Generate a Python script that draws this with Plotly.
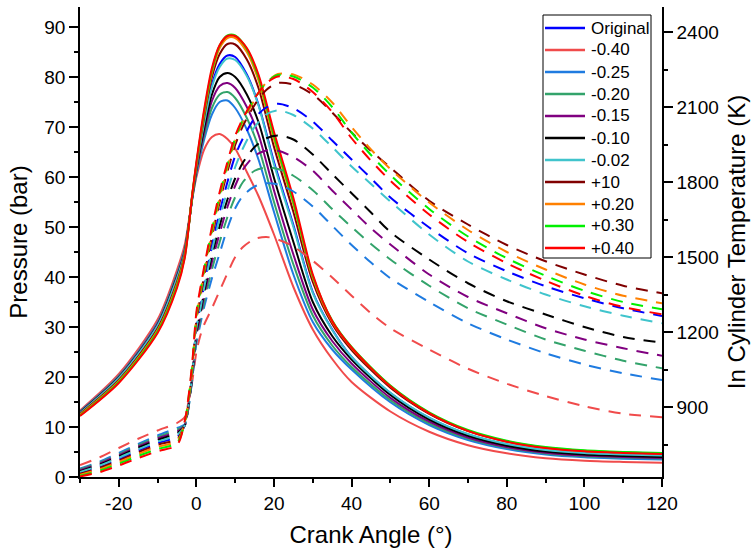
import plotly.graph_objects as go

# Crank angle grids (degrees)
crank_p = [-30, -20, -10, -5, -3, -1, 0, 2, 4, 6, 8, 10, 13, 16, 20, 25, 30, 35, 40,
           50, 60, 70, 80, 90, 100, 110, 120]
crank_t = [-30, -25, -20, -15, -10, -5, -3, -2, -1, 0, 1, 2, 4, 6, 8, 10, 12, 15, 18,
           21, 25, 30, 35, 40, 45, 50, 60, 70, 80, 90, 100, 110, 120]

x_ticks = [-20, 0, 20, 40, 60, 80, 100, 120]
x_tick_text = ["-20", "0", "20", "40", "60", "80", "100", "120"]

labels = ["Original", "-0.40", "-0.25", "-0.20", "-0.15", "-0.10", "-0.02",
          "+10", "+0.20", "+0.30", "+0.40"]
colors = ["#0000FF", "#F04B4B", "#1F7BE0", "#33A36B", "#800080", "#000000",
          "#40C4CC", "#800000", "#FF8000", "#00F000", "#FF0000"]

# Cylinder pressure (bar)
p_orig = [12.7, 19.6, 30.0, 39.4, 44.8, 56.5, 62.0, 71.0, 78.5, 82.6, 84.3, 84.0, 80.5, 74.5,
          63.0, 50.4, 37.0, 29.5, 24.0, 16.8, 11.8, 8.5, 6.5, 5.3, 4.7, 4.4, 4.2]
p_m040 = [13.3, 20.6, 31.5, 41.4, 46.5, 56.0, 60.0, 65.5, 68.0, 68.6, 67.6, 65.7, 61.0, 56.2,
          48.5, 38.0, 29.5, 23.6, 19.0, 13.1, 9.05, 6.36, 4.73, 3.75, 3.26, 3.02, 2.85]
p_m025 = [13.1, 20.2, 30.9, 40.6, 45.6, 56.0, 60.5, 67.5, 72.5, 75.0, 75.3, 73.8, 69.5, 63.5,
          53.0, 40.5, 31.0, 25.5, 21.5, 14.95, 10.4, 7.4, 5.58, 4.49, 3.94, 3.67, 3.5]
p_m020 = [13.0, 20.1, 30.7, 40.4, 45.5, 56.2, 61.0, 68.3, 73.8, 76.5, 77.0, 75.8, 71.8, 66.0,
          55.0, 42.5, 32.3, 26.3, 22.0, 15.35, 10.73, 7.68, 5.83, 4.72, 4.17, 3.89, 3.71]
p_m015 = [12.95, 20.0, 30.6, 40.2, 45.3, 56.3, 61.3, 69.0, 75.2, 78.2, 78.8, 77.8, 74.0, 68.5,
          57.3, 44.5, 33.5, 27.2, 22.7, 15.83, 11.06, 7.91, 6.0, 4.85, 4.28, 3.99, 3.8]
p_m010 = [12.9, 19.9, 30.4, 40.0, 45.1, 56.4, 61.6, 69.8, 76.5, 80.0, 80.8, 80.0, 76.5, 71.0,
          59.8, 47.0, 35.0, 28.2, 23.5, 16.41, 11.49, 8.24, 6.27, 5.09, 4.5, 4.2, 4.0]
p_m002 = [12.8, 19.8, 30.3, 39.8, 45.0, 56.5, 61.9, 70.8, 78.0, 82.0, 83.7, 83.4, 80.2, 74.3,
          62.5, 50.0, 36.8, 29.4, 24.0, 16.84, 11.87, 8.59, 6.6, 5.41, 4.81, 4.51, 4.31]
p_p10 = [12.6, 19.4, 29.7, 39.0, 44.6, 56.7, 62.3, 72.0, 80.0, 84.6, 86.6, 86.5, 83.5, 77.8,
         66.0, 53.0, 39.0, 30.6, 25.4, 17.87, 12.64, 9.19, 7.1, 5.85, 5.22, 4.91, 4.7]
p_p020 = [12.45, 19.2, 29.4, 38.6, 44.3, 56.8, 62.5, 72.6, 80.8, 85.8, 87.8, 87.8, 85.0, 79.3,
          67.5, 54.5, 39.8, 31.0, 25.8, 18.13, 12.8, 9.28, 7.15, 5.87, 5.23, 4.91, 4.7]
p_p030 = [12.3, 19.0, 29.1, 38.2, 44.0, 56.9, 62.7, 73.0, 81.3, 86.3, 88.3, 88.3, 85.6, 80.0,
          68.2, 55.0, 40.2, 31.3, 26.0, 18.29, 12.94, 9.41, 7.27, 5.98, 5.34, 5.02, 4.81]
p_p040 = [12.2, 18.8, 28.8, 37.8, 43.8, 57.0, 63.0, 73.5, 81.8, 86.4, 88.2, 88.2, 85.8, 80.5,
          69.0, 55.8, 40.5, 31.2, 25.9, 18.15, 12.77, 9.22, 7.07, 5.78, 5.13, 4.81, 4.59]

# In-cylinder temperature (K)
t_orig = [636, 661, 692, 726, 756, 781, 826, 912, 1045, 1225, 1300, 1390, 1545, 1680, 1800,
          1905, 1975, 2055, 2098, 2113, 2095, 2042, 1966, 1890, 1815, 1738, 1618, 1515, 1443,
          1383, 1335, 1295, 1264]
t_m040 = [668, 698, 736, 773, 806, 836, 860, 925, 1010, 1120, 1185, 1230, 1295, 1365, 1435,
          1500, 1540, 1572, 1580, 1570, 1542, 1485, 1418, 1345, 1275, 1215, 1130, 1053, 993,
          944, 903, 873, 859]
t_m025 = [654, 681, 716, 752, 786, 816, 830, 900, 1020, 1155, 1230, 1300, 1415, 1515, 1615,
          1695, 1745, 1782, 1795, 1790, 1762, 1702, 1625, 1548, 1478, 1415, 1320, 1235, 1170,
          1115, 1070, 1035, 1008]
t_m020 = [651, 677, 711, 747, 780, 809, 828, 902, 1025, 1170, 1245, 1320, 1450, 1560, 1660,
          1740, 1800, 1845, 1858, 1852, 1825, 1767, 1692, 1620, 1552, 1490, 1385, 1295, 1230,
          1170, 1125, 1085, 1055]
t_m015 = [647, 673, 707, 742, 774, 802, 826, 905, 1030, 1185, 1260, 1345, 1480, 1595, 1700,
          1785, 1850, 1905, 1926, 1925, 1900, 1845, 1766, 1690, 1615, 1550, 1430, 1340, 1275,
          1215, 1170, 1135, 1105]
t_m010 = [643, 669, 702, 737, 768, 795, 826, 908, 1035, 1200, 1275, 1360, 1505, 1625, 1730,
          1815, 1878, 1940, 1975, 1986, 1970, 1910, 1832, 1755, 1678, 1600, 1490, 1395, 1323,
          1270, 1220, 1180, 1158]
t_m002 = [640, 665, 697, 731, 762, 788, 826, 910, 1040, 1215, 1290, 1378, 1525, 1655, 1765,
          1860, 1935, 2020, 2070, 2086, 2068, 2014, 1940, 1862, 1792, 1722, 1590, 1482, 1410,
          1350, 1303, 1265, 1235]
t_p10 = [633, 656, 686, 719, 749, 772, 832, 922, 1058, 1245, 1335, 1425, 1580, 1720, 1842,
         1948, 2025, 2108, 2168, 2196, 2190, 2150, 2078, 1998, 1925, 1858, 1725, 1630, 1548,
         1483, 1430, 1385, 1355]
t_p020 = [629, 651, 680, 712, 741, 764, 836, 930, 1070, 1260, 1350, 1440, 1595, 1735, 1858,
          1965, 2042, 2128, 2198, 2232, 2230, 2190, 2118, 2020, 1930, 1852, 1718, 1608, 1520,
          1450, 1390, 1345, 1315]
t_p030 = [625, 645, 673, 704, 732, 756, 840, 938, 1080, 1270, 1362, 1450, 1608, 1748, 1870,
          1975, 2050, 2133, 2198, 2228, 2222, 2178, 2100, 1998, 1908, 1828, 1692, 1582, 1495,
          1425, 1365, 1320, 1291]
t_p040 = [622, 639, 666, 696, 723, 748, 845, 945, 1090, 1280, 1375, 1460, 1620, 1760, 1880,
          1985, 2055, 2135, 2195, 2222, 2212, 2160, 2080, 1975, 1885, 1805, 1670, 1560, 1475,
          1405, 1345, 1300, 1271]

pressures = [p_orig, p_m040, p_m025, p_m020, p_m015, p_m010, p_m002, p_p10, p_p020, p_p030, p_p040]
temperatures = [t_orig, t_m040, t_m025, t_m020, t_m015, t_m010, t_m002, t_p10, t_p020, t_p030, t_p040]

FONT = "Arial, Liberation Sans, sans-serif"
W, H = 756, 556
M_L, M_R, M_T, M_B = 80, 94, 7, 79
PLOT_W, PLOT_H = W - M_L - M_R, H - M_T - M_B


def paper_x(px):
    return (px - M_L) / PLOT_W


def paper_y(py):
    return (H - M_B - py) / PLOT_H


fig = go.Figure()

# Pressure: solid lines on the left axis
for name, col, p in zip(labels, colors, pressures):
    fig.add_trace(go.Scatter(
        x=crank_p, y=p, mode="lines", name=name, showlegend=False,
        line=dict(color=col, width=2, shape="spline", smoothing=0.8),
        xaxis="x", yaxis="y"))

# Temperature: dashed lines on the right axis
for name, col, t in zip(labels, colors, temperatures):
    fig.add_trace(go.Scatter(
        x=crank_t, y=t, mode="lines", name=name, showlegend=False,
        line=dict(color=col, width=2, dash="12px,9px", shape="spline", smoothing=0.8),
        xaxis="x", yaxis="y2"))

# Boxed key in the upper-right corner of the plot area
shapes = [dict(type="rect", xref="paper", yref="paper",
               x0=paper_x(543), x1=paper_x(651), y0=paper_y(258), y1=paper_y(15),
               line=dict(color="black", width=1), fillcolor="white", layer="above")]
annotations = []
for i, (name, col) in enumerate(zip(labels, colors)):
    row_y = paper_y(28 + 22 * i)
    shapes.append(dict(type="line", xref="paper", yref="paper",
                       x0=paper_x(545), x1=paper_x(585), y0=row_y, y1=row_y,
                       line=dict(color=col, width=2.5), layer="above"))
    annotations.append(dict(text=name, xref="paper", yref="paper", x=paper_x(589), y=row_y,
                            xanchor="left", yanchor="middle", showarrow=False,
                            font=dict(family=FONT, size=17, color="black")))

axis_common = dict(showgrid=False, zeroline=False, showline=True, linecolor="black",
                   linewidth=1.5, tickcolor="black", tickwidth=1.5,
                   tickfont=dict(family=FONT, size=19, color="black"))

fig.update_layout(
    width=W, height=H,
    margin=dict(l=M_L, r=M_R, t=M_T, b=M_B, pad=0),
    paper_bgcolor="white", plot_bgcolor="white",
    font=dict(family=FONT, color="black"),
    showlegend=False,
    shapes=shapes, annotations=annotations,
    xaxis=dict(range=[-30, 120], tickmode="array", tickvals=x_ticks, ticktext=x_tick_text,
               ticks="outside", ticklen=8,
               minor=dict(dtick=10, ticks="outside", ticklen=4, tickcolor="black", tickwidth=1.5),
               title=dict(text="Crank Angle (°)", font=dict(family=FONT, size=24), standoff=14),
               **axis_common),
    xaxis2=dict(range=[-30, 120], overlaying="x", side="top", anchor="y", tick0=0, dtick=20,
                ticks="inside", ticklen=8, showticklabels=False,
                minor=dict(dtick=10, ticks="inside", ticklen=5, tickcolor="black", tickwidth=1.5),
                **axis_common),
    yaxis=dict(range=[0, 94], tick0=0, dtick=10, ticks="outside", ticklen=9,
               minor=dict(dtick=5, ticks="outside", ticklen=4, tickcolor="black", tickwidth=1.5),
               title=dict(text="Pressure (bar)", font=dict(family=FONT, size=24), standoff=10),
               **axis_common),
    yaxis2=dict(range=[620, 2500], overlaying="y", side="right", anchor="x", tick0=0, dtick=300,
                ticks="outside", ticklen=9,
                minor=dict(dtick=150, ticks="outside", ticklen=4, tickcolor="black", tickwidth=1.5),
                title=dict(text="In Cylinder Temperature (K)", font=dict(family=FONT, size=24),
                           standoff=10),
                **axis_common),
)

fig.write_html("out.html")
